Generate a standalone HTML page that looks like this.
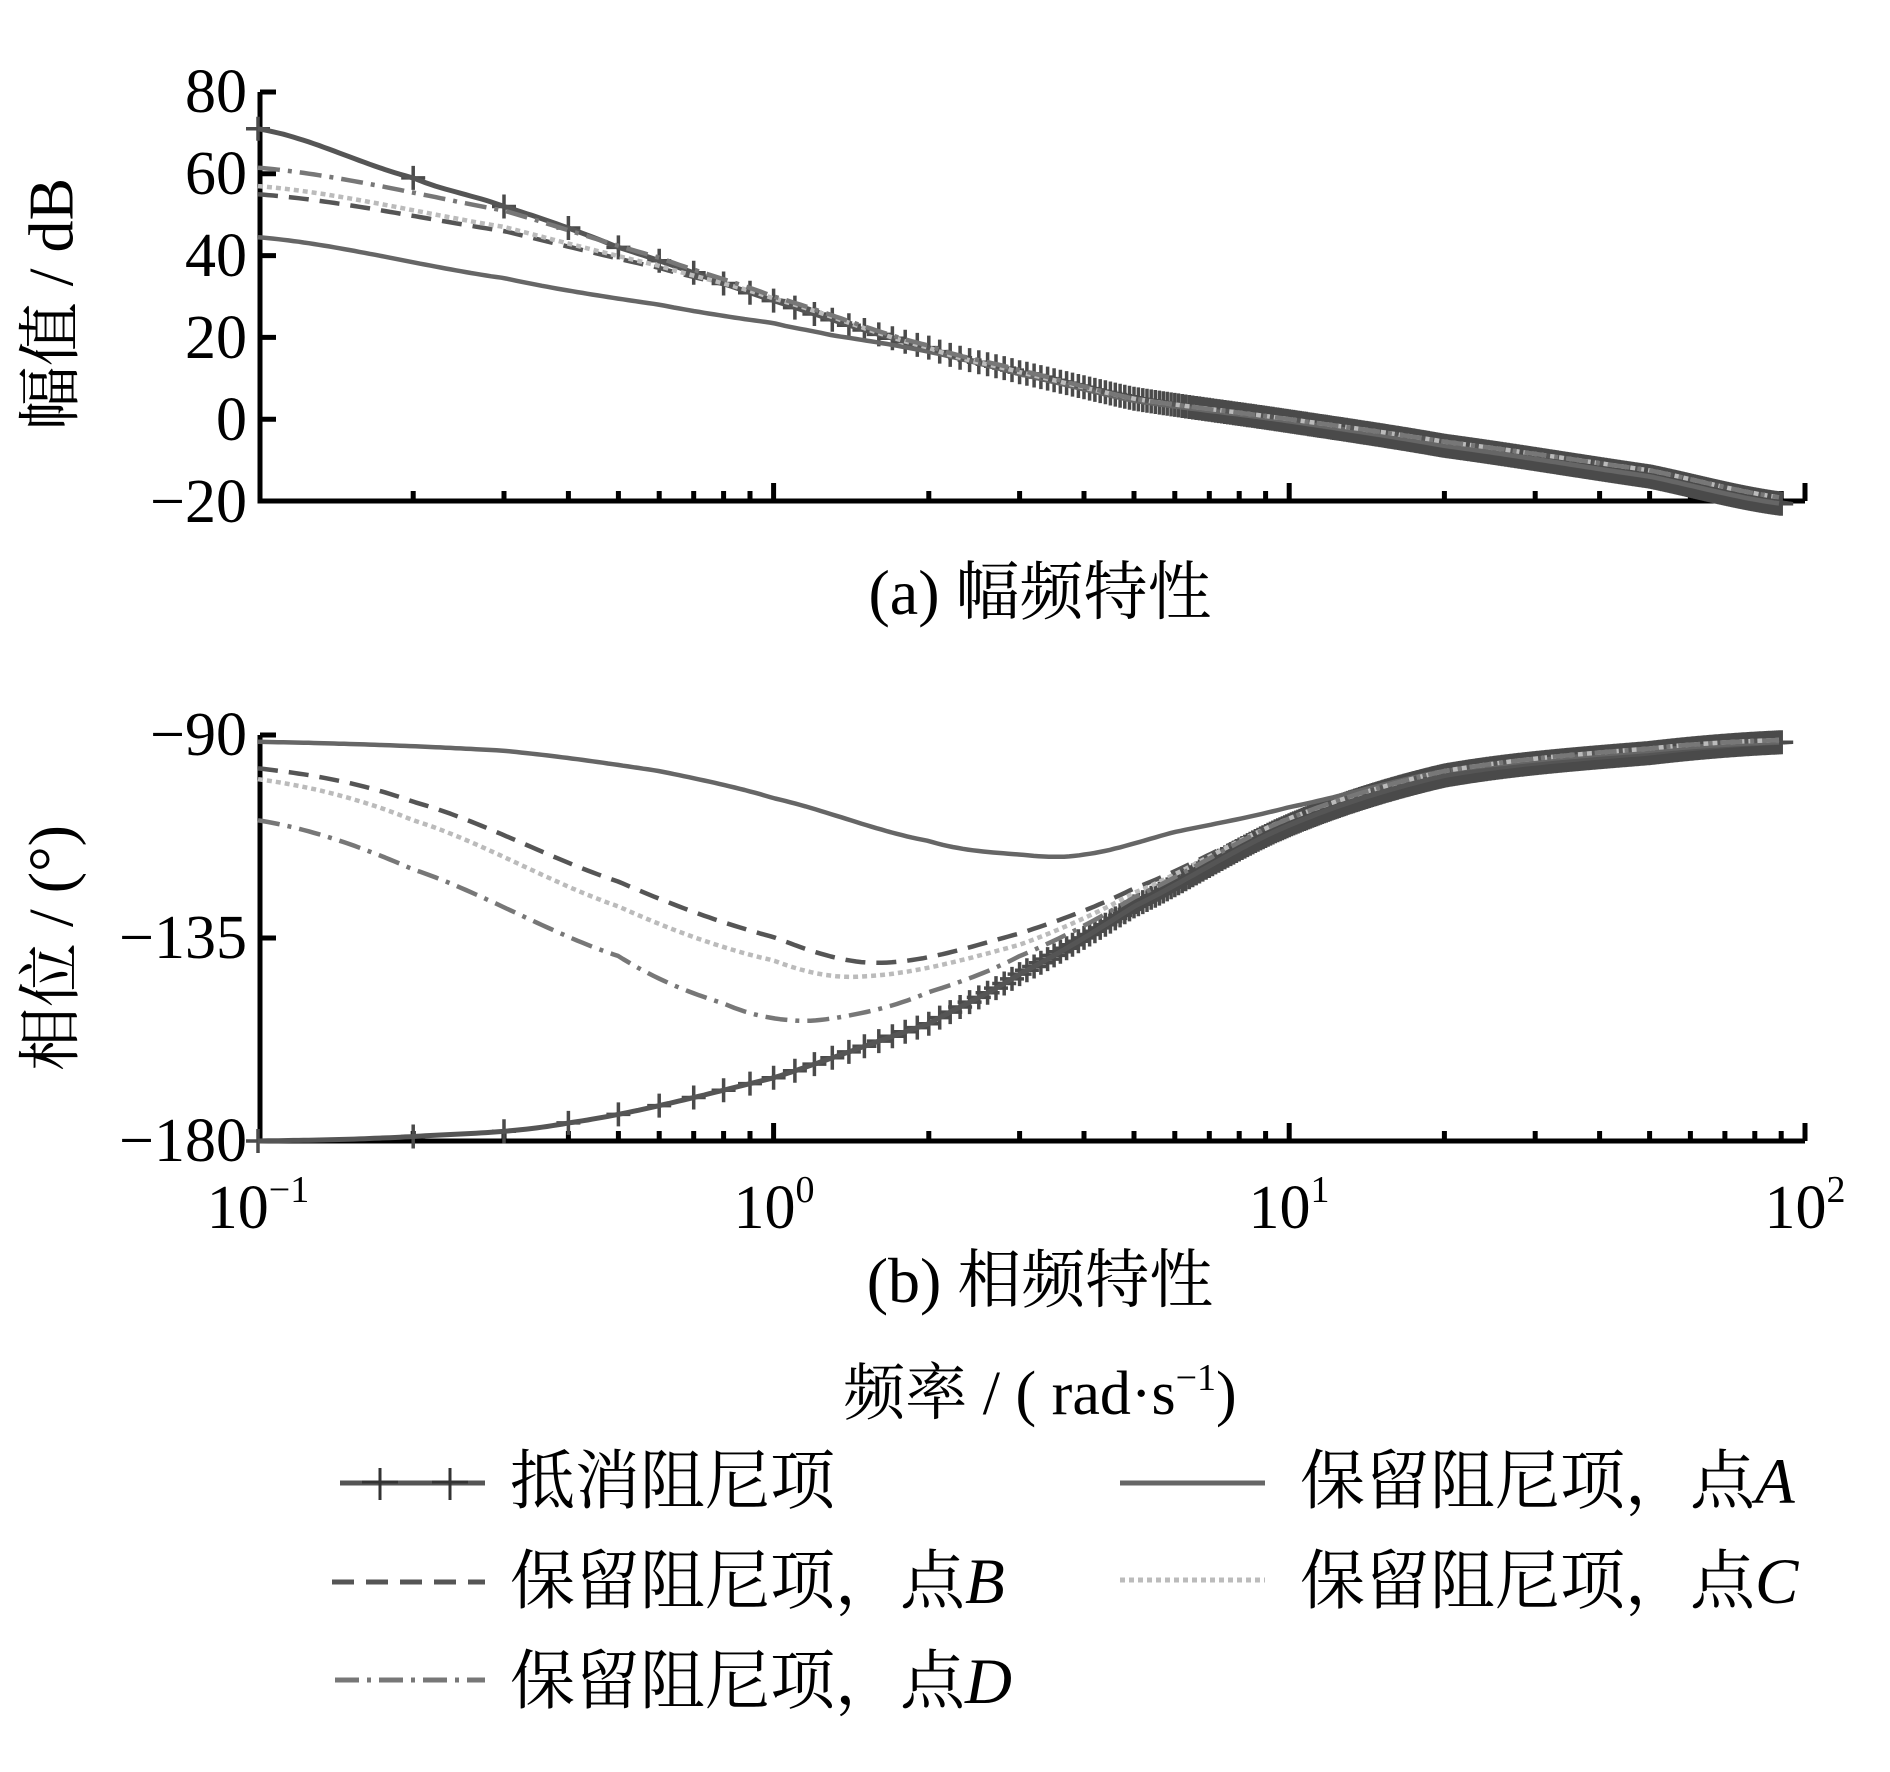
<!DOCTYPE html>
<html><head><meta charset="utf-8"><style>
html,body{margin:0;padding:0;background:#fff;}
svg{display:block;}
text{font-family:"Liberation Serif","Noto Serif CJK SC",serif;fill:#000;}
</style></head><body>
<svg id="s" width="1890" height="1772" xmlns="http://www.w3.org/2000/svg">
<g id="axes" stroke="#000" stroke-width="5" fill="none"></g>
<g id="curves" fill="none" stroke-linejoin="round"></g>
<g font-size="62" text-anchor="end">
<text x="247" y="112">80</text><text x="247" y="194">60</text><text x="247" y="276">40</text>
<text x="247" y="358">20</text><text x="247" y="440">0</text><text x="247" y="522">−20</text>
<text x="247" y="755">−90</text><text x="247" y="958">−135</text><text x="247" y="1161">−180</text>
</g>
<g font-size="62" text-anchor="middle">
<text x="258" y="1228">10<tspan font-size="38" dy="-26">−1</tspan></text>
<text x="774" y="1228">10<tspan font-size="38" dy="-26">0</tspan></text>
<text x="1289" y="1228">10<tspan font-size="38" dy="-26">1</tspan></text>
<text x="1805" y="1228">10<tspan font-size="38" dy="-26">2</tspan></text>
</g>
<text x="58" y="304" font-size="64" text-anchor="middle" transform="rotate(-90 58 304)" dominant-baseline="middle">幅值 / dB</text>
<text x="58" y="948" font-size="64" text-anchor="middle" transform="rotate(-90 58 948)" dominant-baseline="middle">相位 / (°)</text>
<text x="1040" y="614" font-size="64" text-anchor="middle">(a) 幅频特性</text>
<text x="1040" y="1302" font-size="64" text-anchor="middle">(b) 相频特性</text>
<text x="1040" y="1414" font-size="62" text-anchor="middle">频率 / ( rad·s<tspan font-size="38" dy="-24">−1</tspan><tspan dy="24">)</tspan></text>
<g font-size="65">
<text x="510" y="1503">抵消阻尼项</text>
<text x="1300" y="1503">保留阻尼项，点<tspan font-style="italic">A</tspan></text>
<text x="510" y="1603">保留阻尼项，点<tspan font-style="italic">B</tspan></text>
<text x="1300" y="1603">保留阻尼项，点<tspan font-style="italic">C</tspan></text>
<text x="510" y="1703">保留阻尼项，点<tspan font-style="italic">D</tspan></text>
</g>
<g fill="none" stroke-width="5">
<line x1="340" y1="1483" x2="485" y2="1483" stroke="#555"/>
<path d="M380 1468V1500M362 1482H398M450 1468V1500M432 1482H468" stroke="#333" stroke-width="3"/>
<line x1="1120" y1="1483" x2="1265" y2="1483" stroke="#666"/>
<line x1="332" y1="1582" x2="485" y2="1582" stroke="#555" stroke-dasharray="22 12"/>
<line x1="1120" y1="1580" x2="1265" y2="1580" stroke="#bbb" stroke-dasharray="5 4"/>
<line x1="335" y1="1680" x2="485" y2="1680" stroke="#777" stroke-dasharray="24 8 4 8"/>
</g>
</svg>
<script>
var NS="http://www.w3.org/2000/svg";
function X(f){return 258+515.6*(Math.log10(f)+1);}
function YA(d){return 92+(80-d)*4.09;}
function YB(d){return 735+(-90-d)*4.511;}
var ax=document.getElementById('axes');
function P(d,attrs,parent){var e=document.createElementNS(NS,'path');e.setAttribute('d',d);for(var k in attrs)e.setAttribute(k,attrs[k]);(parent||ax).appendChild(e);return e;}
var d="";
[[92,501],[735,1141]].forEach(function(r){
 d+="M260 "+r[0]+"V"+r[1]+"H1805M1805 "+r[1]+"V"+(r[1]-18);
 for(var e=-1;e<2;e++)for(var m=1;m<10;m++){var f=m*Math.pow(10,e);var x=X(f);if(m==1&&e==-1)continue;d+="M"+x.toFixed(1)+" "+r[1]+"V"+(r[1]-(m==1?18:10));}
});
[80,60,40,20,0,-20].forEach(function(v){d+="M260 "+YA(v)+"H276";});
[-90,-135,-180].forEach(function(v){d+="M260 "+YB(v)+"H276";});
P(d,{});
function interp(pts,f){var lf=Math.log10(f);for(var i=0;i<pts.length-1;i++){var a=Math.log10(pts[i][0]),b=Math.log10(pts[i+1][0]);if(lf<=b||i==pts.length-2){var t=(lf-a)/(b-a);
 var p0=pts[Math.max(i-1,0)][1],p1=pts[i][1],p2=pts[i+1][1],p3=pts[Math.min(i+2,pts.length-1)][1];
 var t2=t*t,t3=t2*t;return 0.5*((2*p1)+(-p0+p2)*t+(2*p0-5*p1+4*p2-p3)*t2+(-p0+3*p1-3*p2+p3)*t3);}}}
var cg=document.getElementById('curves');
function curve(pts,Y,attrs){var s="";for(var i=0;i<=300;i++){var f=Math.pow(10,-1+i*(2.95/300));s+=(i?"L":"M")+X(f).toFixed(1)+" "+Y(interp(pts,f)).toFixed(1);}return P(s,attrs,cg);}
var tail=[[10,-0.5],[20,-6.5],[50,-14],[95,-21]];
var mP=[[0.1,71],[0.2,59],[0.3,52],[0.5,42],[1,29],[2,17.5],[3,11.5],[5,5]].concat(tail);
var mA=[[0.1,44.5],[0.3,34.5],[0.6,28],[1,23.5],[1.3,20.5],[2,16.5],[3,11],[5,4.5]].concat(tail);
var mB=[[0.1,55],[0.3,46],[0.6,37],[1,29.5],[2,17.5],[3,11.5],[5,5]].concat([[10,0],[20,-5.5],[50,-12.5],[95,-19.5]]);
var mC=[[0.1,57],[0.3,47],[0.6,37.5],[1,29.5],[2,17.5],[3,11.5],[5,5]].concat([[10,0],[20,-5.5],[50,-12.5],[95,-19.5]]);
var mD=[[0.1,61.5],[0.3,51],[0.6,39.5],[1,30],[2,18],[3,12],[5,5]].concat([[10,0],[20,-5.5],[50,-12.5],[95,-19.5]]);
var ptail=[[10,-110],[20,-99],[50,-94],[95,-91.5]];
var ptail2=[[10,-108.5],[20,-98],[50,-93],[95,-91]];
var pP=[[0.1,-180],[0.2,-179],[0.4,-176],[1,-166],[2,-154],[3,-143],[5,-128]].concat(ptail);
var pA=[[0.1,-91.5],[0.3,-93.5],[0.6,-98],[1,-104],[2,-113.5],[3,-116.5],[4,-116.5],[6,-111.5],[10,-106]].concat([[20,-98],[50,-93.5],[95,-91.5]]);
var pB=[[0.1,-97.4],[0.2,-104.8],[0.5,-122.5],[1,-134.8],[1.6,-140.5],[3,-134],[5,-124]].concat(ptail2);
var pC=[[0.1,-99.8],[0.2,-108.9],[0.5,-128],[1,-140],[1.5,-143.5],[3,-136.5],[5,-125]].concat(ptail2);
var pD=[[0.1,-108.9],[0.2,-119.8],[0.5,-139],[0.8,-149.5],[1.1,-153.3],[1.5,-151.5],[2,-147],[3,-139],[5,-126]].concat(ptail2);
function set(m,p,attrs){curve(m,YA,attrs);curve(p,YB,attrs);}
var md="";
for(var k=1;k<=900;k++){var f=k*0.1;if(f>92)break;var x=X(f);
 [YA(interp(mP,f)),YB(interp(pP,f))].forEach(function(y){md+="M"+(x-12).toFixed(1)+" "+y.toFixed(1)+"h24M"+x.toFixed(1)+" "+(y-12).toFixed(1)+"v24";});}
P(md,{stroke:"#4a4a4a","stroke-width":3.5},cg);
set(mP,pP,{stroke:"#555","stroke-width":5});
set(mA,pA,{stroke:"#666","stroke-width":4.5});
set(mB,pB,{stroke:"#555","stroke-width":4.5,"stroke-dasharray":"20 11"});
set(mC,pC,{stroke:"#bbb","stroke-width":4.5,"stroke-dasharray":"5 4"});
set(mD,pD,{stroke:"#777","stroke-width":4.5,"stroke-dasharray":"22 8 4 8"});
</script>
</body></html>
